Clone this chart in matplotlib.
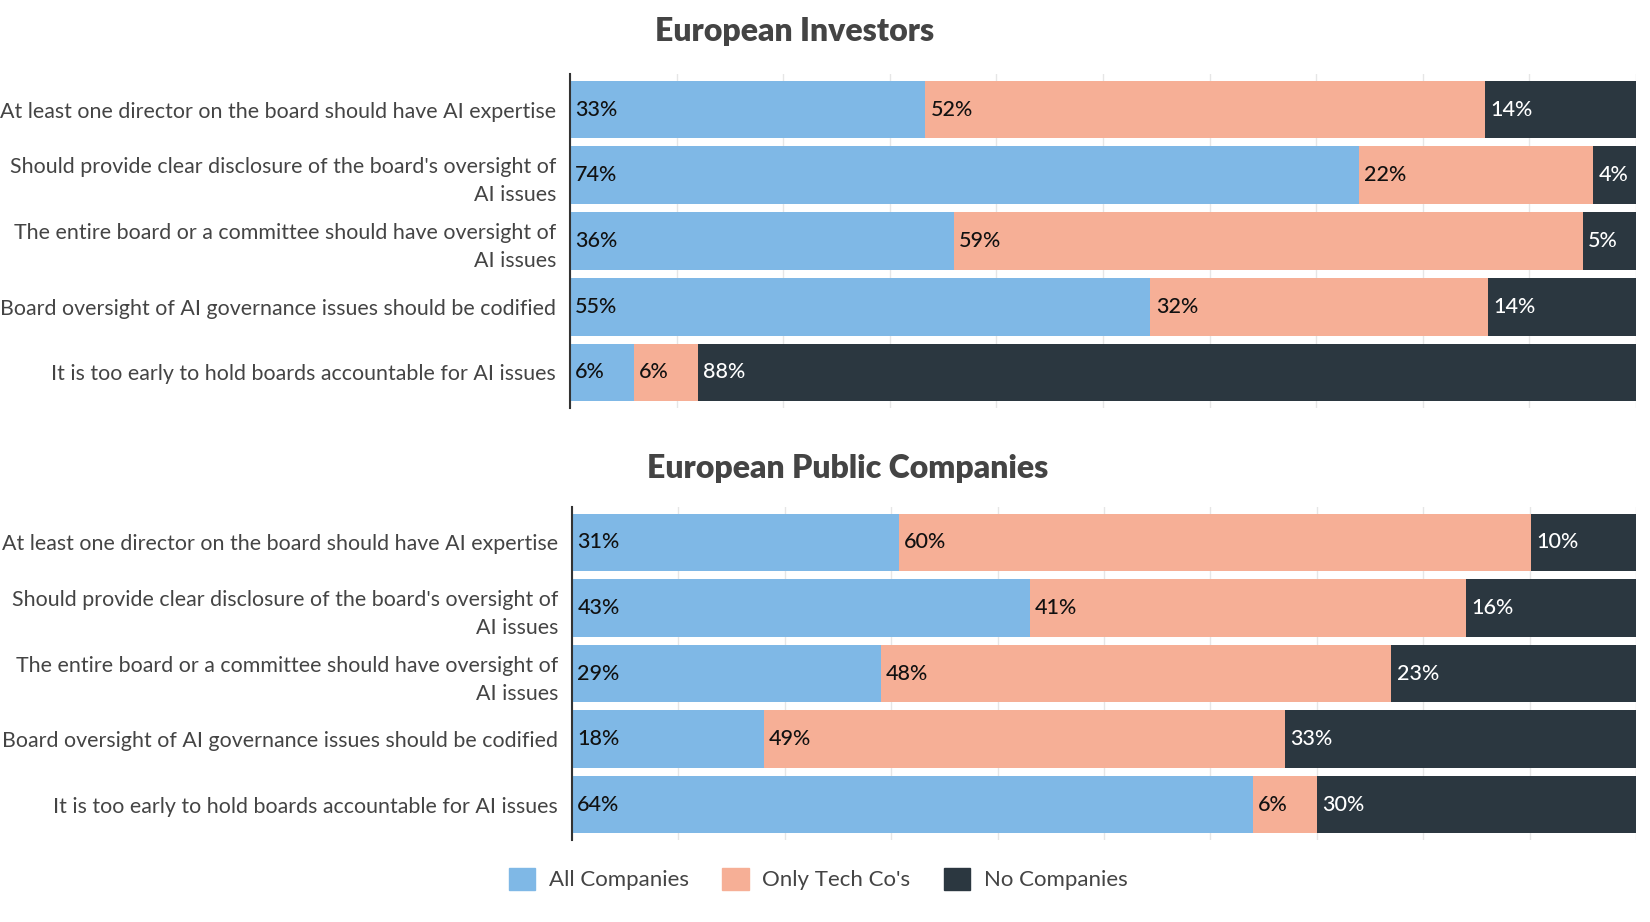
import numpy as np
import matplotlib.pyplot as plt

plt.rcParams['font.family'] = ['Lato', 'DejaVu Sans']

questions = [
    "At least one director on the board should have AI expertise",
    "Should provide clear disclosure of the board's oversight of\nAI issues",
    "The entire board or a committee should have oversight of\nAI issues",
    "Board oversight of AI governance issues should be codified",
    "It is too early to hold boards accountable for AI issues",
]

series_names = ["All Companies", "Only Tech Co's", "No Companies"]

# European Investors
inv_all = [33, 74, 36, 55, 6]
inv_tech = [52, 22, 59, 32, 6]
inv_none = [14, 4, 5, 14, 88]

# European Public Companies
pub_all = [31, 43, 29, 18, 64]
pub_tech = [60, 41, 48, 49, 6]
pub_none = [10, 16, 23, 33, 30]

colors = ["#7FB8E6", "#F6AF96", "#2B3740"]
label_colors = ["#111111", "#111111", "#FFFFFF"]

W, H = 1650, 922
fig = plt.figure(figsize=(W / 100, H / 100), dpi=100)


def px_axes(left, top, right, bottom):
    return fig.add_axes([left / W, 1 - bottom / H, (right - left) / W, (bottom - top) / H])


def draw_panel(ax, series):
    data = np.array(series, dtype=float)
    totals = data.sum(axis=0)
    pct = data / totals * 100  # percent stacking
    y = np.arange(len(questions))
    left = np.zeros(len(questions))
    for i in range(3):
        ax.barh(y, pct[i], left=left, height=0.88, color=colors[i], zorder=2)
        for j in range(len(questions)):
            ax.text(left[j] + 0.5, y[j], f"{int(data[i][j])}%", va='center', ha='left',
                    fontsize=15.5, color=label_colors[i], zorder=3, fontweight='medium')
        left += pct[i]
    ax.set_xlim(0, 100)
    ax.set_ylim(len(questions) - 0.46, -0.54)
    ax.set_xticks(np.arange(0, 101, 10))
    ax.set_xticklabels([])
    ax.tick_params(axis='x', length=0)
    ax.grid(axis='x', color='#e6e6e6', lw=1, zorder=0)
    ax.set_yticks(y)
    ax.set_yticklabels(questions, fontsize=15.4, color='#444444', linespacing=1.5)
    ax.tick_params(axis='y', length=0, pad=10)
    for lab in ax.get_yticklabels():
        lab.set_horizontalalignment('right')
        lab.set_multialignment('right')
    for s in ['top', 'right', 'bottom']:
        ax.spines[s].set_visible(False)
    ax.spines['left'].set_color('#333333')
    ax.spines['left'].set_linewidth(1.5)


ax1 = px_axes(570, 74, 1636, 408)
draw_panel(ax1, [inv_all, inv_tech, inv_none])
ax2 = px_axes(572, 507, 1636, 840)
draw_panel(ax2, [pub_all, pub_tech, pub_none])

fig.text(795 / W, 1 - 32 / H, "European Investors", ha='center', va='center',
         fontsize=23, fontweight='heavy', color='#444444')
fig.text(848 / W, 1 - 468 / H, "European Public Companies", ha='center', va='center',
         fontsize=23, fontweight='heavy', color='#444444')

handles = [plt.Rectangle((0, 0), 1, 1, color=c) for c in colors]
fig.legend(handles, series_names, loc='center', bbox_to_anchor=(818 / W, 1 - 879 / H),
           ncol=3, frameon=False, fontsize=16, handlelength=1.2, handleheight=1.2,
           columnspacing=1.5, handletextpad=0.6, labelcolor='#444444')

fig.savefig('out.png', dpi=100)
